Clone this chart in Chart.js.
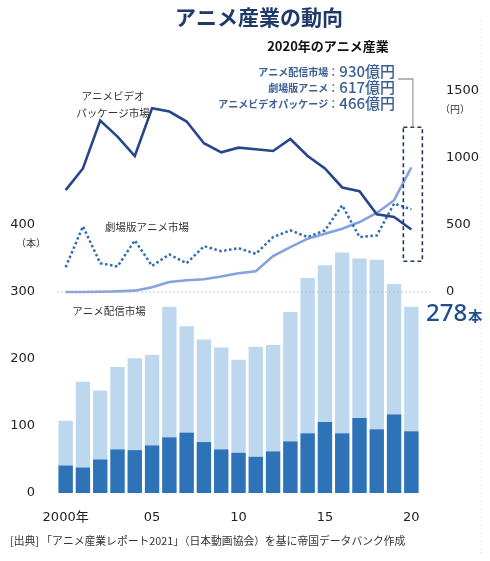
<!DOCTYPE html>
<html>
<head>
<meta charset="utf-8">
<script src="https://cdn.jsdelivr.net/npm/chart.js@4.4.0/dist/chart.umd.min.js"></script>
<style>
  html, body { margin: 0; padding: 0; background: #fff; }
  #wrap { width: 490px; height: 561px; position: relative; }
</style>
</head>
<body>
<div id="wrap"><canvas id="animeChart"></canvas></div>
<script>
// 年（2000〜2020）
const years = ['2000','2001','2002','2003','2004','2005','2006','2007','2008','2009','2010',
               '2011','2012','2013','2014','2015','2016','2017','2018','2019','2020'];
const yearLabels = {'2000': '2000年', '2005': '05', '2010': '10', '2015': '15', '2020': '20'};

// 劇場版アニメ公開本数（本）: 合計と濃い部分
const filmsTotal = [108, 166, 153, 188, 201, 206, 278, 249, 229, 217, 199, 218, 221, 270, 321, 340, 359, 350, 348, 312, 278];
const filmsDark  = [41, 38, 50, 65, 64, 71, 83, 90, 76, 65, 60, 54, 62, 77, 89, 106, 89, 112, 95, 117, 92];

// 市場規模（億円）
const videoPackage = [760, 922, 1280, 1160, 1015, 1372, 1347, 1272, 1110, 1042, 1077, 1065, 1052, 1142, 1015, 922, 780, 752, 580, 560, 466];
const theatrical   = [185, 490, 215, 190, 385, 195, 280, 215, 342, 305, 327, 285, 410, 460, 410, 460, 647, 410, 422, 660, 617];
const streaming    = [0, 0, 2, 5, 10, 35, 75, 88, 95, 115, 140, 155, 268, 335, 398, 435, 472, 522, 590, 685, 930];

const JP = "'Noto Sans CJK JP', sans-serif";
const NUM = "'DejaVu Sans', 'Noto Sans CJK JP', sans-serif";

const decor = {
  id: 'decor',
  afterDraw(chart) {
    const c = chart.ctx;
    const x = chart.scales.x, yR = chart.scales.yR;
    const area = chart.chartArea;
    c.save();

    // 0 の点線
    const y0 = yR.getPixelForValue(0);
    c.strokeStyle = '#b8b8b8';
    c.lineWidth = 1.2;
    c.setLineDash([1.5, 2.5]);
    c.beginPath(); c.moveTo(area.left, y0); c.lineTo(area.right + 10, y0); c.stroke();

    // 右端の薄い点線
    c.strokeStyle = '#e4e4e4';
    c.beginPath(); c.moveTo(481, 20); c.lineTo(481, 555); c.stroke();

    // 2020年の破線枠
    const cx = x.getPixelForValue(20);
    const rl = cx - 8, rr = cx + 11;
    const rt = yR.getPixelForValue(1230), rb = yR.getPixelForValue(230);
    c.strokeStyle = '#22365e';
    c.lineWidth = 1.6;
    c.setLineDash([4, 3]);
    c.strokeRect(rl, rt, rr - rl, rb - rt);

    // 接続線
    c.setLineDash([]);
    c.strokeStyle = '#a0a0a0';
    c.lineWidth = 1.3;
    c.beginPath();
    c.moveTo((rl + rr) / 2, rt);
    c.lineTo((rl + rr) / 2, 79);
    c.lineTo(398, 79);
    c.stroke();

    // タイトル
    c.textAlign = 'center';
    c.textBaseline = 'middle';
    c.fillStyle = '#1f3a68';
    c.font = "bold 21px " + JP;
    c.fillText('アニメ産業の動向', 259, 17);

    c.fillStyle = '#111';
    c.font = "bold 13px " + JP;
    c.fillText('2020年のアニメ産業', 328, 46);

    // 2020年の値
    const rows = [['アニメ配信市場：', '930億円', 71], ['劇場版アニメ：', '617億円', 87], ['アニメビデオパッケージ：', '466億円', 103]];
    c.textAlign = 'right';
    rows.forEach(r => {
      c.fillStyle = '#3a5f92';
      c.font = "500 15px " + JP;
      c.fillText(r[1], 395, r[2]);
      const w = c.measureText(r[1]).width;
      c.font = "bold 10px " + JP;
      c.fillText(r[0], 395 - w - 1, r[2] + 1);
    });

    // 系列ラベル
    c.textAlign = 'center';
    c.fillStyle = '#333';
    c.font = "10.5px " + JP;
    c.fillText('アニメビデオ', 113, 96);
    c.fillText('パッケージ市場', 113, 113);
    c.fillText('劇場版アニメ市場', 147, 227);
    c.fillText('アニメ配信市場', 109, 311);

    // 単位
    c.font = "10px " + JP;
    c.fillText('（本）', 31, 243);
    c.fillText('（円）', 455, 109);

    // 278本
    c.textAlign = 'left';
    c.textBaseline = 'alphabetic';
    c.fillStyle = '#1f4e8c';
    c.font = "500 24px 'Noto Sans', sans-serif";
    c.fillText('278', 426, 321);
    const w278 = c.measureText('278').width;
    c.font = "bold 14px " + JP;
    c.fillText('本', 426 + w278 + 1, 321);

    // 出典
    c.textBaseline = 'middle';
    c.fillStyle = '#333';
    c.font = "10.8px " + JP;
    c.fillText('[出典] 「アニメ産業レポート2021」（日本動画協会）を基に帝国データバンク作成', 10, 541);

    c.restore();
  }
};

new Chart(document.getElementById('animeChart'), {
  data: {
    labels: years,
    datasets: [
      { type: 'line', label: 'アニメビデオパッケージ市場', data: videoPackage, yAxisID: 'yR',
        borderColor: '#27458a', borderWidth: 2.6, pointRadius: 0, tension: 0, order: 0 },
      { type: 'line', label: '劇場版アニメ市場', data: theatrical, yAxisID: 'yR',
        borderColor: '#2f6db5', borderWidth: 2.5, borderDash: [2.5, 2.5], pointRadius: 0, tension: 0, order: 0 },
      { type: 'line', label: 'アニメ配信市場', data: streaming, yAxisID: 'yR',
        borderColor: '#86a2de', borderWidth: 2.6, pointRadius: 0, tension: 0, order: 0 },
      { type: 'bar', label: '劇場版（濃）', data: filmsDark, yAxisID: 'yL',
        backgroundColor: '#2e73b8', grouped: false, barPercentage: 0.83, categoryPercentage: 1, order: 1 },
      { type: 'bar', label: '劇場版公開本数', data: filmsTotal, yAxisID: 'yL',
        backgroundColor: '#bdd7ef', grouped: false, barPercentage: 0.83, categoryPercentage: 1, order: 2 }
    ]
  },
  options: {
    responsive: true,
    maintainAspectRatio: false,
    animation: false,
    layout: { padding: { top: 91, left: 0, right: 0, bottom: 0 } },
    plugins: { legend: { display: false }, tooltip: { enabled: false } },
    scales: {
      x: {
        grid: { display: false },
        border: { display: false },
        afterFit: s => { s.height = 68; },
        ticks: {
          autoSkip: false, maxRotation: 0, padding: 9, color: '#222',
          font: { size: 13, family: NUM },
          callback: function(v) { return yearLabels[years[v]] || ''; }
        }
      },
      yL: {
        position: 'left', min: 0, max: 600,
        grid: { display: false },
        border: { display: false },
        afterFit: s => { s.width = 57; },
        ticks: {
          stepSize: 100, padding: 14, color: '#222',
          font: { size: 13, family: NUM },
          callback: v => v <= 400 ? v : ''
        }
      },
      yR: {
        position: 'right', min: -1500, max: 1500,
        grid: { display: false },
        border: { display: false },
        afterFit: s => { s.width = 70; },
        ticks: {
          stepSize: 500, padding: 18, color: '#222',
          font: { size: 13, family: NUM },
          callback: v => v >= 0 ? v : ''
        }
      }
    }
  },
  plugins: [decor]
});
</script>
</body>
</html>
